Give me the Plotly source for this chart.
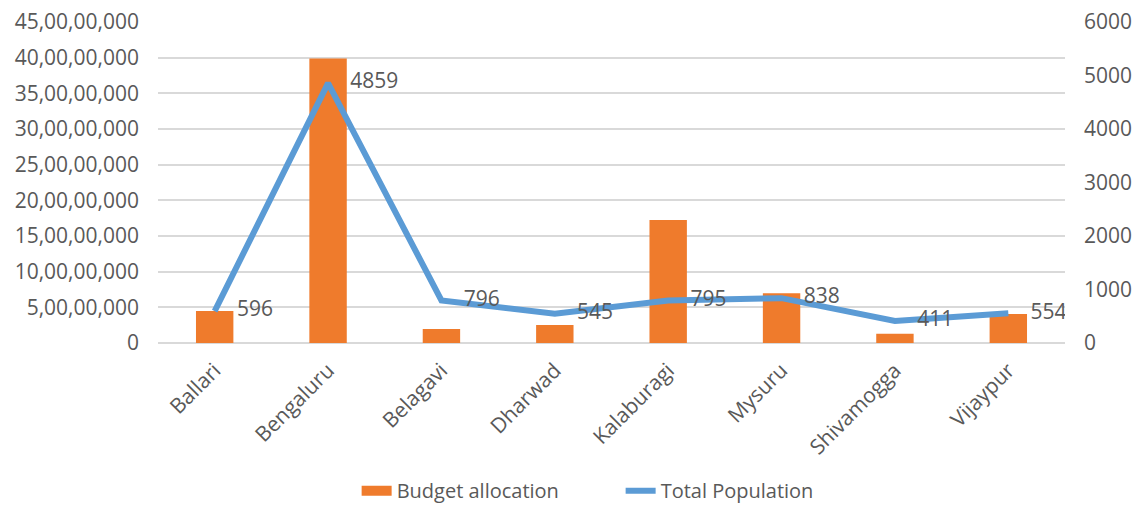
import plotly.graph_objects as go

districts = ["Ballari", "Bengaluru", "Belagavi", "Dharwad", "Kalaburagi",
             "Mysuru", "Shivamogga", "Vijaypur"]
budget = [44800000, 398700000, 19800000, 25400000, 172500000,
          69800000, 12900000, 40700000]
population = [596, 4859, 796, 545, 795, 838, 411, 554]

budget_ticks = [0, 50000000, 100000000, 150000000, 200000000, 250000000,
                300000000, 350000000, 400000000, 450000000]
budget_ticktext = ["0", "5,00,00,000", "10,00,00,000", "15,00,00,000",
                   "20,00,00,000", "25,00,00,000", "30,00,00,000",
                   "35,00,00,000", "40,00,00,000", "45,00,00,000"]

grey = "#595959"
orange = "#EF7B2C"
blue = "#5B9BD5"
font = "Open Sans, Noto Sans, sans-serif"

fig = go.Figure()

fig.add_trace(go.Bar(
    x=districts, y=budget, name="Budget allocation", showlegend=False,
    marker=dict(color=orange, line=dict(width=0)),
    width=0.33,
))

# legend-only stand-in so the bar key is a wide block like the original
fig.add_trace(go.Scatter(
    x=[None], y=[None], name="Budget allocation", mode="lines",
    line=dict(color=orange, width=13),
))

# invisible markers only push the value labels away from the line
fig.add_trace(go.Scatter(
    x=districts, y=population, name="Total Population", yaxis="y2",
    mode="lines+markers+text", text=[str(v) for v in population],
    textposition="middle right",
    textfont=dict(size=21, color=grey, family=font),
    marker=dict(size=34, color="rgba(0,0,0,0)"),
    line=dict(color=blue, width=6),
))

# page body adds an 8px margin, so the figure is 16px smaller than the window
fig.update_layout(
    width=1129, height=499,
    margin=dict(l=150, r=72, t=14, b=164, autoexpand=False),
    plot_bgcolor="white", paper_bgcolor="white",
    font=dict(family=font, size=20, color=grey),
    xaxis=dict(
        range=[-0.5, len(districts) - 0.5],
        tickangle=-45, showgrid=False, showline=False, ticks="",
        tickfont=dict(size=21, color=grey), automargin=False,
        ticklabelstandoff=10,
    ),
    yaxis=dict(
        range=[0, 450000000], tickvals=budget_ticks, ticktext=budget_ticktext,
        showgrid=True, gridcolor="#D9D9D9", gridwidth=1.5,
        zeroline=True, zerolinecolor="#D9D9D9", zerolinewidth=1.5,
        ticks="", tickfont=dict(size=21, color=grey), ticklabelstandoff=18,
        automargin=False, ticklabeloverflow="allow",
    ),
    yaxis2=dict(
        range=[0, 6000], dtick=1000, overlaying="y", side="right",
        showgrid=False, zeroline=False, ticks="",
        tickfont=dict(size=21, color=grey), ticklabelstandoff=18,
        automargin=False, ticklabeloverflow="allow",
    ),
    legend=dict(
        orientation="h", x=0.219, xanchor="left", y=-0.46, yanchor="middle",
        font=dict(size=20, color=grey), itemwidth=30, tracegroupgap=0,
        entrywidth=219, bgcolor="rgba(0,0,0,0)",
    ),
    showlegend=True,
)

fig.write_html("out.html")
